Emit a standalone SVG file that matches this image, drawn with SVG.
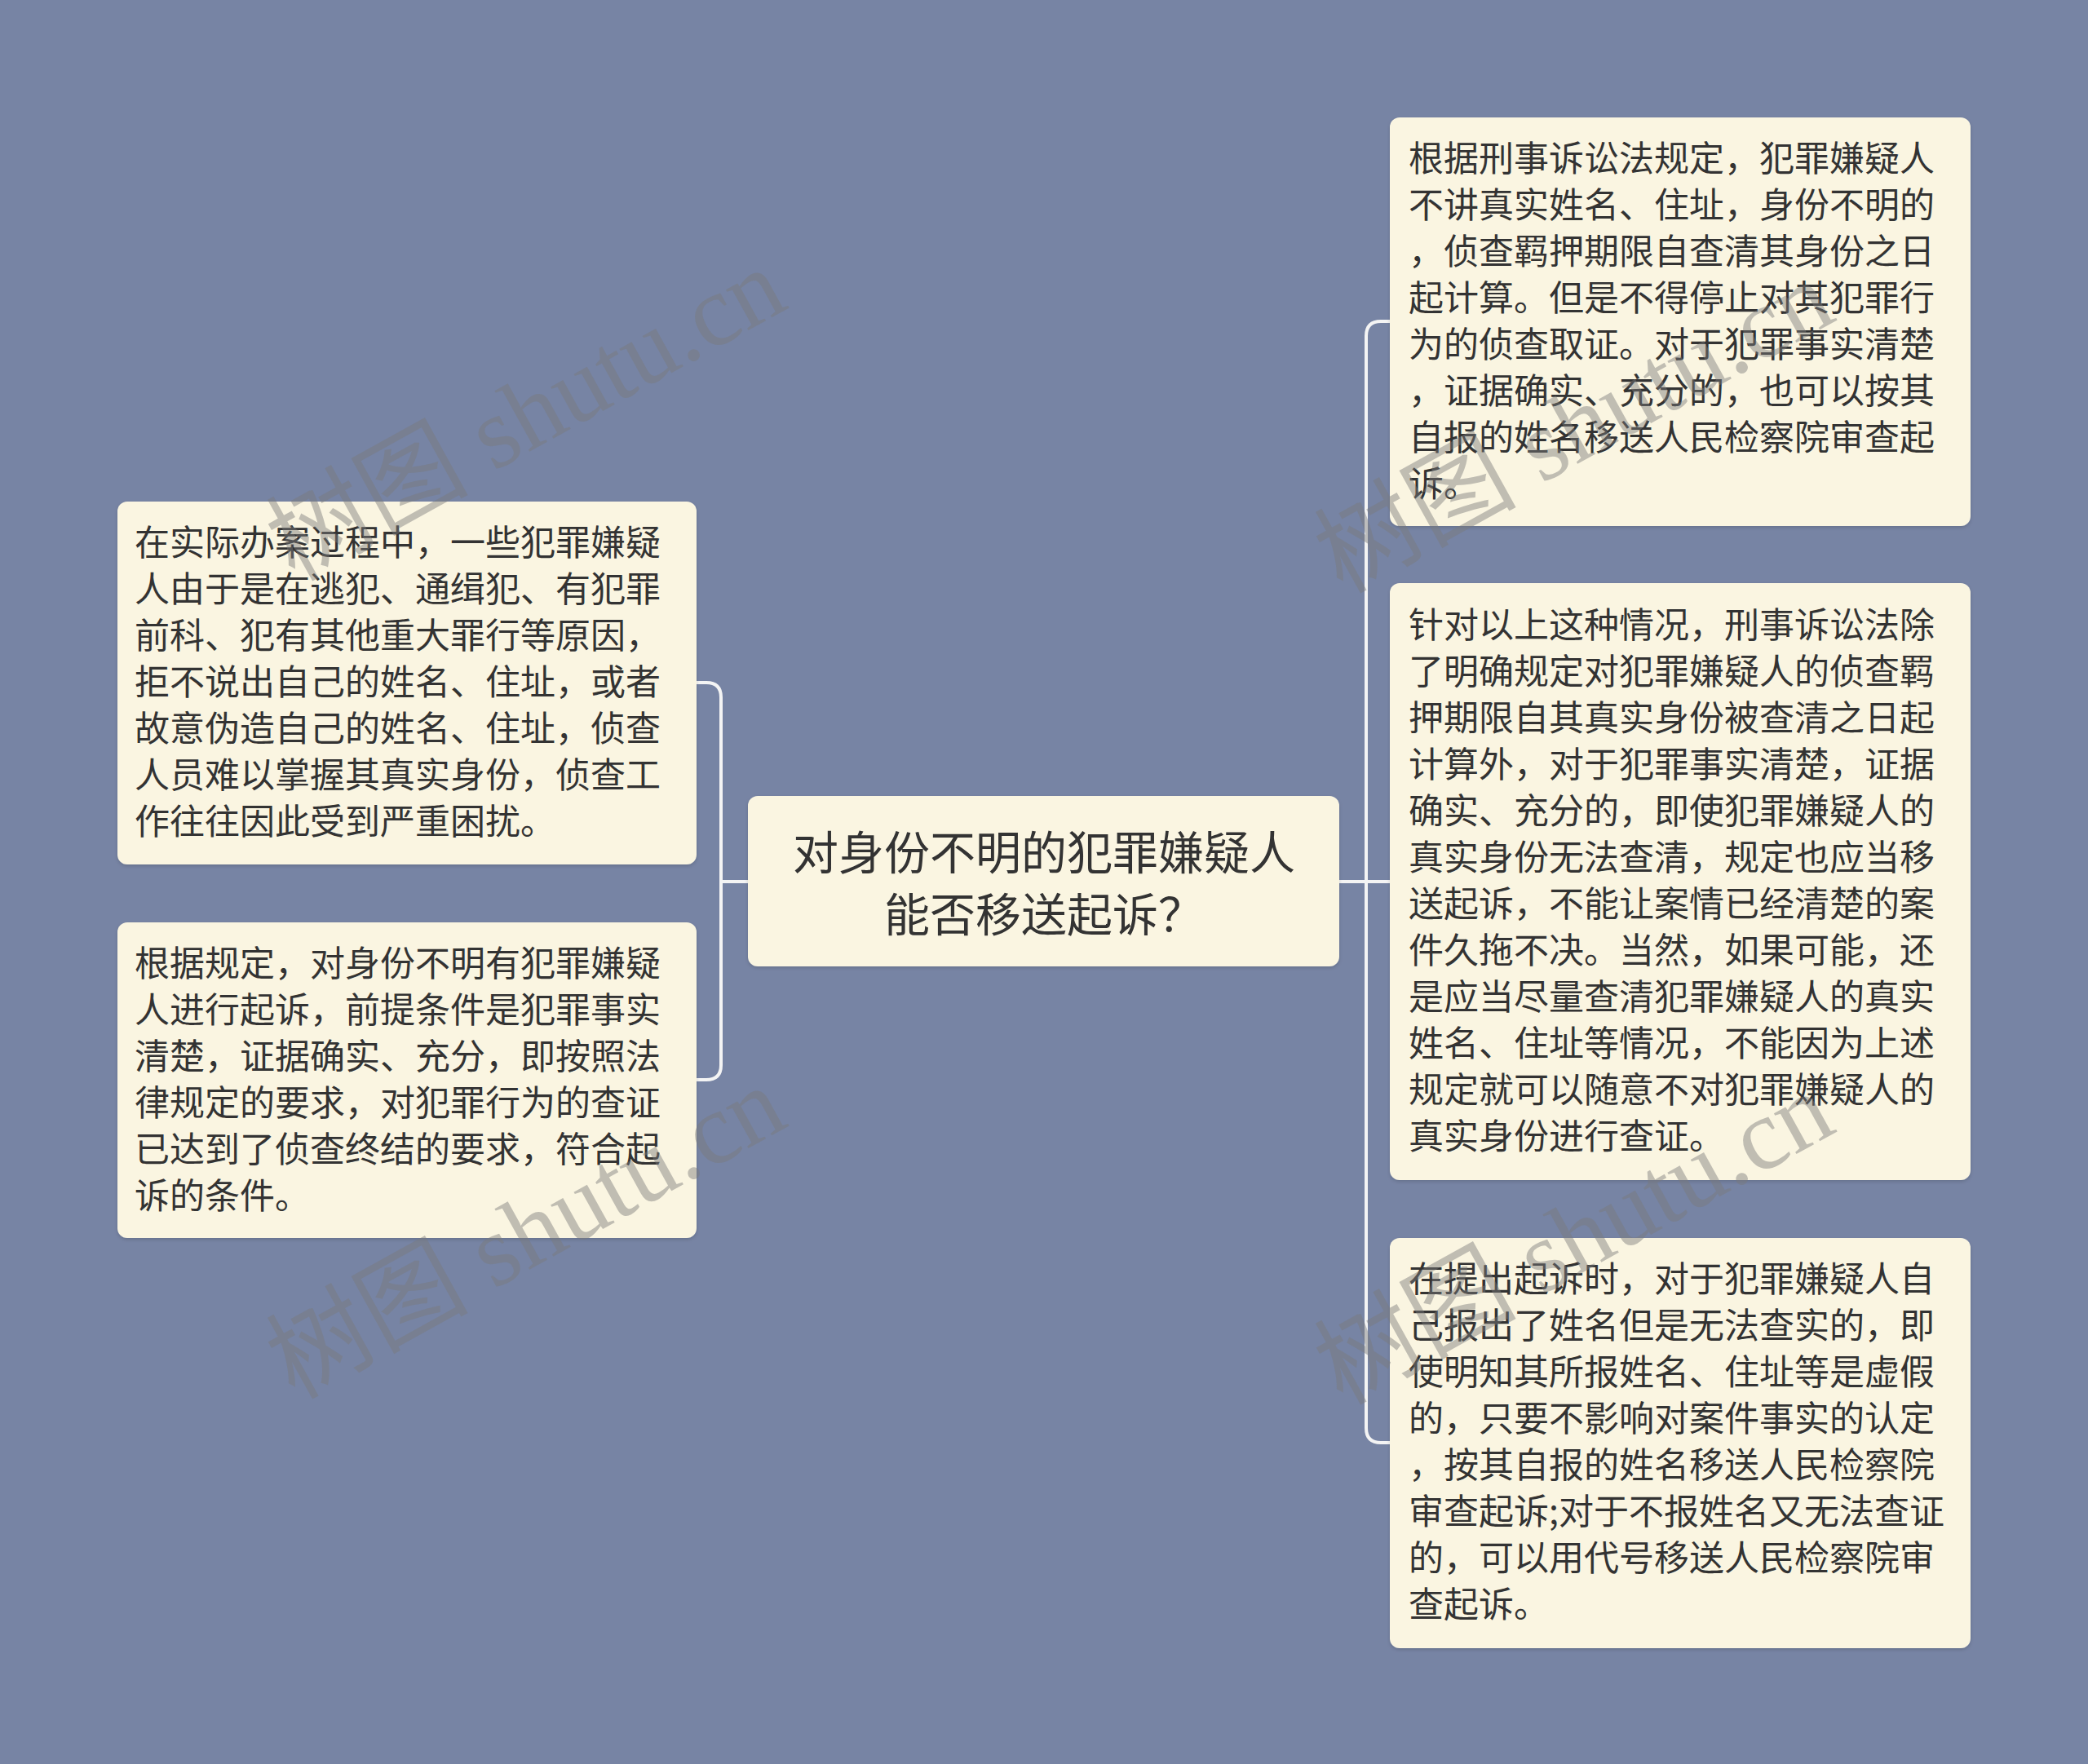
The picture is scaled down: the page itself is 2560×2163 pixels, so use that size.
<svg xmlns="http://www.w3.org/2000/svg" width="2560" height="2163" viewBox="0 0 2560 2163">
<style>
.bg{fill:#7784a4}
.box{fill:#faf5e1}
.t{font-family:"Noto Sans CJK SC","Noto Sans",sans-serif;font-size:43px;fill:#333333}
.c{font-family:"Noto Sans CJK SC","Noto Sans",sans-serif;font-size:56px;fill:#333333;text-anchor:middle}
.ln{fill:none;stroke:#f4f4f4;stroke-width:4}
.wm{font-family:"Liberation Serif","Noto Sans CJK SC",serif;font-size:124px;fill:#7a7a7a;fill-opacity:0.45;text-anchor:middle}
</style>
<defs>
<filter id="sh" x="-5%" y="-5%" width="110%" height="110%">
<feDropShadow dx="0" dy="2" stdDeviation="2" flood-color="#000" flood-opacity="0.15"/>
</filter>
</defs>
<rect class="bg" x="0" y="0" width="2560" height="2163"/>
<g id="connectors">
<path class="ln" d="M917,1081 H884"/>
<path class="ln" d="M854,837 H866 Q884,837 884,855 V1306 Q884,1324 866,1324 H854"/>
<path class="ln" d="M1642,1081 H1704"/>
<path class="ln" d="M1704,394 H1693 Q1675,394 1675,412 V1751 Q1675,1769 1693,1769 H1704"/>
</g>
<g id="center">
<rect class="box" filter="url(#sh)" x="917" y="976" width="725" height="209" rx="12"/>
<text class="c" x="1280" y="1066">对身份不明的犯罪嫌疑人</text>
<text class="c" x="1280" y="1142">能否移送起诉？</text>
</g>
<g id="left1">
<rect class="box" filter="url(#sh)" x="144" y="615" width="710" height="445" rx="12"/>
<text class="t" x="165" y="681">在实际办案过程中，一些犯罪嫌疑</text>
<text class="t" x="165" y="738">人由于是在逃犯、通缉犯、有犯罪</text>
<text class="t" x="165" y="795">前科、犯有其他重大罪行等原因，</text>
<text class="t" x="165" y="852">拒不说出自己的姓名、住址，或者</text>
<text class="t" x="165" y="909">故意伪造自己的姓名、住址，侦查</text>
<text class="t" x="165" y="966">人员难以掌握其真实身份，侦查工</text>
<text class="t" x="165" y="1023">作往往因此受到严重困扰。</text>
</g>
<g id="left2">
<rect class="box" filter="url(#sh)" x="144" y="1131" width="710" height="387" rx="12"/>
<text class="t" x="165" y="1197">根据规定，对身份不明有犯罪嫌疑</text>
<text class="t" x="165" y="1254">人进行起诉，前提条件是犯罪事实</text>
<text class="t" x="165" y="1311">清楚，证据确实、充分，即按照法</text>
<text class="t" x="165" y="1368">律规定的要求，对犯罪行为的查证</text>
<text class="t" x="165" y="1425">已达到了侦查终结的要求，符合起</text>
<text class="t" x="165" y="1482">诉的条件。</text>
</g>
<g id="right1">
<rect class="box" filter="url(#sh)" x="1704" y="144" width="712" height="501" rx="12"/>
<text class="t" x="1727" y="210">根据刑事诉讼法规定，犯罪嫌疑人</text>
<text class="t" x="1727" y="267">不讲真实姓名、住址，身份不明的</text>
<text class="t" x="1727" y="324">，侦查羁押期限自查清其身份之日</text>
<text class="t" x="1727" y="381">起计算。但是不得停止对其犯罪行</text>
<text class="t" x="1727" y="438">为的侦查取证。对于犯罪事实清楚</text>
<text class="t" x="1727" y="495">，证据确实、充分的，也可以按其</text>
<text class="t" x="1727" y="552">自报的姓名移送人民检察院审查起</text>
<text class="t" x="1727" y="609">诉。</text>
</g>
<g id="right2">
<rect class="box" filter="url(#sh)" x="1704" y="715" width="712" height="732" rx="12"/>
<text class="t" x="1727" y="782">针对以上这种情况，刑事诉讼法除</text>
<text class="t" x="1727" y="839">了明确规定对犯罪嫌疑人的侦查羁</text>
<text class="t" x="1727" y="896">押期限自其真实身份被查清之日起</text>
<text class="t" x="1727" y="953">计算外，对于犯罪事实清楚，证据</text>
<text class="t" x="1727" y="1010">确实、充分的，即使犯罪嫌疑人的</text>
<text class="t" x="1727" y="1067">真实身份无法查清，规定也应当移</text>
<text class="t" x="1727" y="1124">送起诉，不能让案情已经清楚的案</text>
<text class="t" x="1727" y="1181">件久拖不决。当然，如果可能，还</text>
<text class="t" x="1727" y="1238">是应当尽量查清犯罪嫌疑人的真实</text>
<text class="t" x="1727" y="1295">姓名、住址等情况，不能因为上述</text>
<text class="t" x="1727" y="1352">规定就可以随意不对犯罪嫌疑人的</text>
<text class="t" x="1727" y="1409">真实身份进行查证。</text>
</g>
<g id="right3">
<rect class="box" filter="url(#sh)" x="1704" y="1518" width="712" height="503" rx="12"/>
<text class="t" x="1727" y="1584">在提出起诉时，对于犯罪嫌疑人自</text>
<text class="t" x="1727" y="1641">己报出了姓名但是无法查实的，即</text>
<text class="t" x="1727" y="1698">使明知其所报姓名、住址等是虚假</text>
<text class="t" x="1727" y="1755">的，只要不影响对案件事实的认定</text>
<text class="t" x="1727" y="1812">，按其自报的姓名移送人民检察院</text>
<text class="t" x="1727" y="1869">审查起诉;对于不报姓名又无法查证</text>
<text class="t" x="1727" y="1926">的，可以用代号移送人民检察院审</text>
<text class="t" x="1727" y="1983">查起诉。</text>
</g>
<g id="watermarks">
<text class="wm" transform="translate(665,545) rotate(-29)">树图 shutu.cn</text>
<text class="wm" transform="translate(665,1548) rotate(-29)">树图 shutu.cn</text>
<text class="wm" transform="translate(1950,560) rotate(-29)">树图 shutu.cn</text>
<text class="wm" transform="translate(1950,1555) rotate(-29)">树图 shutu.cn</text>
</g>
</svg>
